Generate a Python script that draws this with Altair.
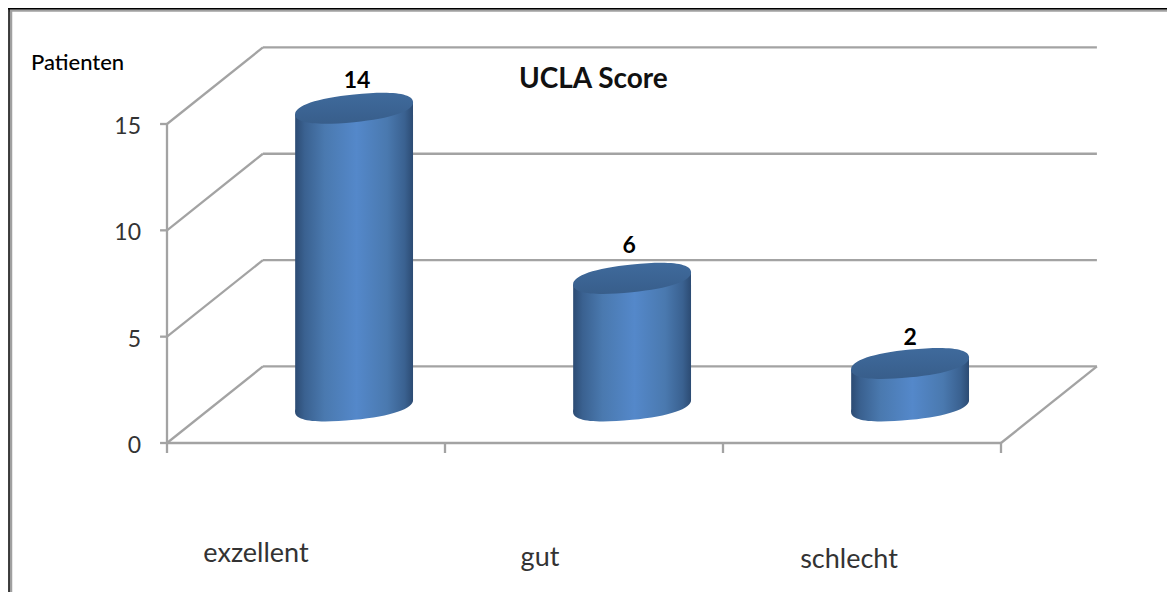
import altair as alt
import pandas as pd

categories = ["exzellent", "gut", "schlecht"]
patients = [14, 6, 2]
y_ticks = [0, 5, 10, 15]
x_ticks = [0, 1, 2, 3]

FONT = "Lato"
LINE = "#a3a3a3"

# Fake 3D projection, in data units: how far the back wall sits from the front plane.
DEPTH_X = 0.345
DEPTH_Y = 3.6
# Cylinder placement inside the floor.
BASE_X = 0.173
BASE_Y = 1.74
HALF_W = 0.212
TILT_Y = 0.285

x_scale = alt.Scale(domain=[0, 3], range=[167, 1001])
y_scale = alt.Scale(domain=[0, 15], range=[443, 124])
X = lambda f: alt.X(f, type="quantitative", scale=x_scale, axis=None)
Y = lambda f: alt.Y(f, type="quantitative", scale=y_scale, axis=None)


def ellipse_path(tilt, minor, k=0.5523):
    """Sheared ellipse in the -1..1 box, drawn as four Bezier arcs."""
    quads = [
        ((1, -tilt), (0, -minor)),
        ((0, -minor), (-1, tilt)),
        ((-1, tilt), (0, minor)),
        ((0, minor), (1, -tilt)),
    ]
    d = f"M1,{-tilt}"
    for a, b in quads:
        c1 = (a[0] + k * b[0], a[1] + k * b[1])
        c2 = (b[0] + k * a[0], b[1] + k * a[1])
        d += f"C{c1[0]:.4f},{c1[1]:.4f},{c2[0]:.4f},{c2[1]:.4f},{b[0]:.4f},{b[1]:.4f}"
    return d + "Z"


CAP = ellipse_path(0.103, 0.235, k=0.64)
CAP_SIZE = 118 ** 2

body_fill = alt.Gradient(
    gradient="linear", x1=0, x2=1, y1=0, y2=0,
    stops=[
        alt.GradientStop(offset=0.0, color="#2c4b73"),
        alt.GradientStop(offset=0.08, color="#3a6190"),
        alt.GradientStop(offset=0.25, color="#4a79af"),
        alt.GradientStop(offset=0.52, color="#5488ca"),
        alt.GradientStop(offset=0.78, color="#4a79af"),
        alt.GradientStop(offset=0.93, color="#3a6190"),
        alt.GradientStop(offset=1.0, color="#2c4b73"),
    ],
)
cap_fill = alt.Gradient(
    gradient="linear", x1=0, x2=0, y1=0, y2=1,
    stops=[
        alt.GradientStop(offset=0.0, color="#3f6a9c"),
        alt.GradientStop(offset=1.0, color="#385e8b"),
    ],
)

# Tables
bars = pd.DataFrame({"cat": categories, "value": patients})
bars["cx"] = [i + 0.5 + BASE_X for i in range(len(categories))]
bars["base"] = BASE_Y
bars["top"] = bars["value"] + BASE_Y

body_rows = []
for row in bars.itertuples():
    for side in (-1, 1):
        body_rows.append({
            "cat": row.cat,
            "x": row.cx + side * HALF_W,
            "y": row.top + side * TILT_Y,
            "y2": row.base + side * TILT_Y,
        })
body = pd.DataFrame(body_rows)

lines = []
for v in y_ticks:
    # back wall, side wall, tick
    lines.append({"x": DEPTH_X, "x2": 3 + DEPTH_X, "y": v + DEPTH_Y, "y2": v + DEPTH_Y})
    lines.append({"x": 0, "x2": DEPTH_X, "y": v, "y2": v + DEPTH_Y})
    lines.append({"x": -0.025, "x2": 0, "y": v, "y2": v})
lines.append({"x": 0, "x2": 0, "y": 0, "y2": 15})
lines.append({"x": 0, "x2": 3, "y": 0, "y2": 0})
lines.append({"x": 3, "x2": 3 + DEPTH_X, "y": 0, "y2": DEPTH_Y})
for t in x_ticks:
    lines.append({"x": t, "x2": t, "y": 0, "y2": -0.47})
lines = pd.DataFrame(lines)

# Walls and axes
grid = alt.Chart(lines).mark_rule(color=LINE, strokeWidth=2.3).encode(
    x=X("x"), x2="x2", y=Y("y"), y2="y2"
)
y_labels = alt.Chart(pd.DataFrame({"v": y_ticks})).mark_text(
    align="right", baseline="middle", dx=-26, dy=3, font=FONT, fontSize=23, color="#333333"
).encode(x=alt.value(167), y=Y("v"), text=alt.Text("v:Q"))

# Cylinders: bottom cap, body, top cap
bottom_cap = alt.Chart(bars).mark_point(
    shape=CAP, size=CAP_SIZE, filled=True, fill=body_fill, opacity=1, strokeWidth=0
).encode(x=X("cx"), y=Y("base"))
cyl_body = alt.Chart(body).mark_area(orient="vertical", fill=body_fill).encode(
    x=X("x"), y=Y("y"), y2="y2", detail="cat:N"
)
top_cap = alt.Chart(bars).mark_point(
    shape=CAP, size=CAP_SIZE, filled=True, fill=cap_fill, opacity=1, strokeWidth=0
).encode(x=X("cx"), y=Y("top"))

# Value labels sit just above each cap.
value_offsets = [(3, -27), (-3, -32), (0, -25)]
value_labels = [
    alt.Chart(bars.iloc[[i]]).mark_text(
        align="center", baseline="middle", dx=dx, dy=dy,
        font=FONT, fontSize=23, fontWeight="bold", color="#000000"
    ).encode(x=X("cx"), y=Y("top"), text=alt.Text("value:Q"))
    for i, (dx, dy) in enumerate(value_offsets)
]

# Category names are placed by hand below the floor.
cat_offsets = [(-50, 111), (-44, 115), (-13, 117)]
cat_labels = [
    alt.Chart(pd.DataFrame({"cat": [c], "x": [i + 0.5], "y": [0]})).mark_text(
        align="center", baseline="middle", dx=dx, dy=dy,
        font=FONT, fontSize=27, color="#333333"
    ).encode(x=X("x"), y=Y("y"), text="cat:N")
    for i, (c, (dx, dy)) in enumerate(zip(categories, cat_offsets))
]

title = alt.Chart(pd.DataFrame({"t": ["UCLA Score"]})).mark_text(
    align="left", baseline="middle", font=FONT, fontSize=28, fontWeight="bold", color="#111111"
).encode(x=alt.value(519), y=alt.value(80), text="t:N")
y_title = alt.Chart(pd.DataFrame({"t": ["Patienten"]})).mark_text(
    align="left", baseline="middle", font=FONT, fontSize=22, fontWeight=500, color="#000000"
).encode(x=alt.value(31), y=alt.value(63), text="t:N")


def frame(color, width, **pos):
    return alt.Chart(pd.DataFrame({"a": [0]})).mark_rule(color=color, strokeWidth=width).encode(
        **{k: alt.value(v) for k, v in pos.items()}
    )


frames = [
    frame("#a0a0a0", 2.5, x=11, y=10, y2=592),
    frame("#a0a0a0", 2.5, y=10.5, x=9, x2=1167),
    frame("#000000", 1.5, x=9, y=8, y2=592),
    frame("#000000", 1.5, y=8.7, x=8, x2=1167),
]

chart = alt.layer(
    *frames, grid, y_labels, bottom_cap, cyl_body, top_cap,
    *value_labels, *cat_labels, title, y_title,
).properties(
    width=1167, height=592, padding=0, background="#ffffff",
    autosize=alt.AutoSizeParams(type="none"),
).configure_view(stroke=None)

chart.save("out.html", embed_options={"renderer": "svg", "actions": False})
